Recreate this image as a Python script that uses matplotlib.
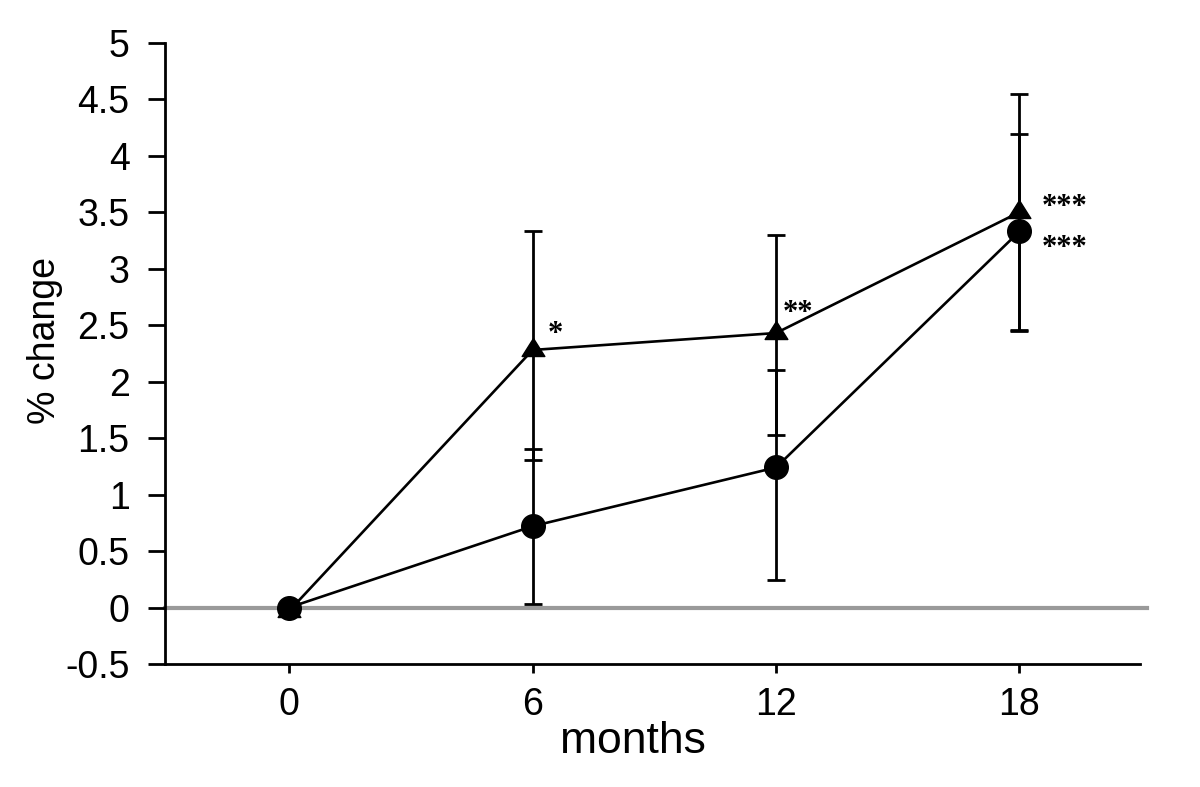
import numpy as np
import matplotlib
matplotlib.use("Agg")
import matplotlib.pyplot as plt

plt.rcParams['font.family'] = ['Liberation Sans', 'DejaVu Sans']

months = [0, 6, 12, 18]

# triangle series
tri_mean = [-0.03, 2.28, 2.43, 3.50]
tri_lo = [np.nan, 1.31, 1.53, 2.45]
tri_hi = [np.nan, 3.33, 3.30, 4.55]
tri_stars = ['', '*', '**', '***']

# circle series
circ_mean = [0.0, 0.72, 1.24, 3.33]
circ_lo = [np.nan, 0.03, 0.24, 2.46]
circ_hi = [np.nan, 1.40, 2.10, 4.19]
circ_stars = ['', '', '', '***']

yticks = [-0.5, 0, 0.5, 1, 1.5, 2, 2.5, 3, 3.5, 4, 4.5, 5]
ytick_labels = ['-0.5', '0', '0.5', '1', '1.5', '2', '2.5', '3', '3.5', '4', '4.5', '5']

fig = plt.figure(figsize=(12, 7.87), dpi=100)
ax = fig.add_axes([0.1375, 0.1563, 0.8125, 0.7894])

# zero reference line
ax.axhline(0, color='#9a9a9a', lw=3, zorder=1, xmax=1.007, clip_on=False)

# triangle marker centred on its centroid, a bit flatter than default
tri_marker = [(0, 1), (-0.945, -0.5), (0.945, -0.5), (0, 1)]

def yerr(mean, lo, hi):
    mean = np.array(mean)
    return [mean - np.array(lo), np.array(hi) - mean]

ax.errorbar(months, circ_mean, yerr=yerr(circ_mean, circ_lo, circ_hi), color='black',
            lw=1.9, elinewidth=2.0, capsize=6.4, capthick=2.0,
            marker='o', ms=17, zorder=3)
ax.errorbar(months, tri_mean, yerr=yerr(tri_mean, tri_lo, tri_hi), color='black',
            lw=1.9, elinewidth=2.0, capsize=6.4, capthick=2.0,
            marker=tri_marker, ms=17.3, zorder=2)

# significance stars
star_font = dict(family='Liberation Serif', fontweight='bold', fontsize=22,
                 ha='left', va='baseline')
tri_off = {'*': (11, 6), '**': (5, 9), '***': (16, -2)}
for x, y, s in zip(months, tri_mean, tri_stars):
    if s:
        ax.annotate(s, xy=(x, y), xytext=tri_off[s], textcoords='offset points', **star_font)
for x, y, s in zip(months, circ_mean, circ_stars):
    if s:
        ax.annotate(s, xy=(x, y), xytext=(16, -18), textcoords='offset points', **star_font)

ax.set_xlim(-3.06, 20.97)
ax.set_ylim(-0.5, 5)
ax.set_xticks(months)
ax.set_xticklabels([str(m) for m in months])
ax.set_yticks(yticks)
ax.set_yticklabels(ytick_labels)

for side in ['top', 'right']:
    ax.spines[side].set_visible(False)
for side in ['left', 'bottom']:
    ax.spines[side].set_linewidth(2.0)

ax.tick_params(axis='y', direction='out', length=12.5, width=2.0, labelsize=27, pad=13)
ax.tick_params(axis='x', direction='out', length=6.5, width=2.0, labelsize=27, pad=10)

ax.text(0.48, -0.125, 'months', transform=ax.transAxes, fontsize=32,
        ha='center', va='center')
fig.text(45 / 1200, 1 - 340 / 787, '% change', fontsize=27, rotation=90,
         ha='center', va='center')

fig.savefig('out.png', dpi=100)
